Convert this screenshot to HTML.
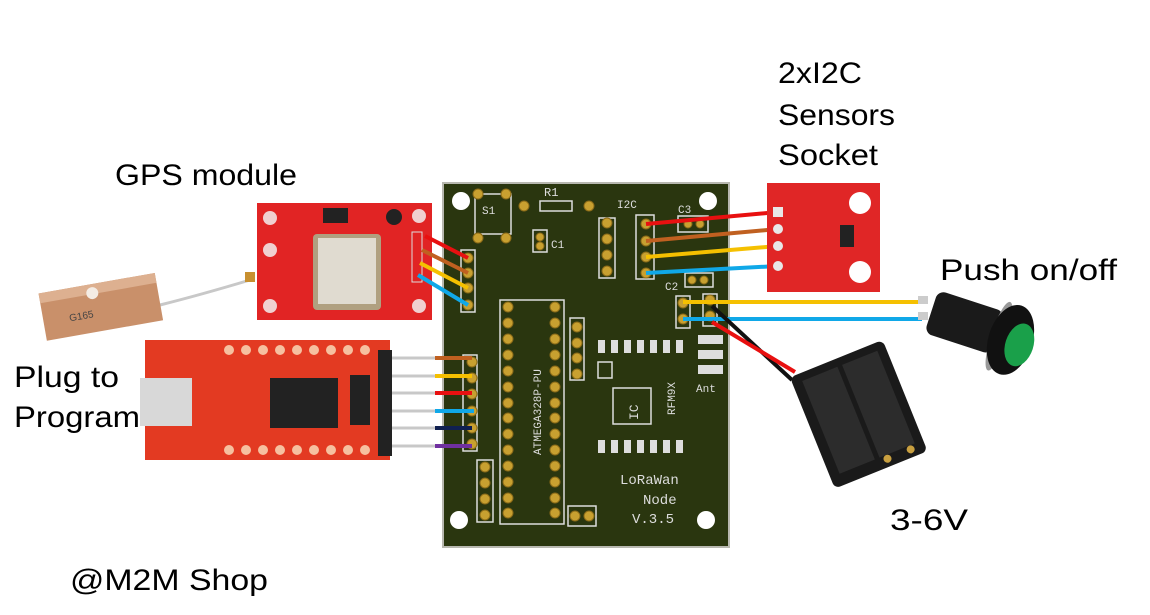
<!DOCTYPE html>
<html><head><meta charset="utf-8"><style>
html,body{margin:0;padding:0;background:#fff;width:1150px;height:615px;overflow:hidden}
svg{display:block}
.t{font-family:"Liberation Sans",sans-serif;font-size:30px;fill:#000}
.pm{font-family:"Liberation Mono",monospace;fill:#ddd}
</style></head><body>
<svg width="1150" height="615" viewBox="0 0 1150 615" xmlns="http://www.w3.org/2000/svg">
<!-- labels -->
<text class="t" x="778" y="83" textLength="84" lengthAdjust="spacingAndGlyphs">2xI2C</text>
<text class="t" x="778" y="125" textLength="117" lengthAdjust="spacingAndGlyphs">Sensors</text>
<text class="t" x="778" y="165" textLength="100" lengthAdjust="spacingAndGlyphs">Socket</text>
<text class="t" x="115" y="185" textLength="182" lengthAdjust="spacingAndGlyphs">GPS module</text>
<text class="t" x="940" y="280" textLength="177" lengthAdjust="spacingAndGlyphs">Push on/off</text>
<text class="t" x="14" y="387" textLength="105" lengthAdjust="spacingAndGlyphs">Plug to</text>
<text class="t" x="14" y="427" textLength="126" lengthAdjust="spacingAndGlyphs">Program</text>
<text class="t" x="890" y="530" textLength="78" lengthAdjust="spacingAndGlyphs">3-6V</text>
<text class="t" x="70" y="590" textLength="198" lengthAdjust="spacingAndGlyphs">@M2M Shop</text>

<!-- PCB -->
<rect x="443" y="183" width="286" height="364" fill="#2a360f" stroke="#b8b8b0" stroke-width="2"/>
<g fill="#fff">
<circle cx="461" cy="201" r="9"/><circle cx="708" cy="201" r="9"/>
<circle cx="459" cy="520" r="9"/><circle cx="706" cy="520" r="9"/>
</g>
<g fill="none" stroke="#ddd" stroke-width="1.5">
<rect x="475" y="194" width="36" height="40"/>
<rect x="540" y="201" width="32" height="10"/>
<rect x="533" y="230" width="14" height="22"/>
<rect x="599" y="218" width="16" height="60"/>
<rect x="636" y="215" width="18" height="64"/>
<rect x="678" y="216" width="30" height="16"/>
<rect x="685" y="273" width="28" height="14"/>
<rect x="500" y="300" width="64" height="224"/>
<rect x="570" y="318" width="14" height="62"/>
<rect x="461" y="250" width="14" height="62"/>
<rect x="463" y="355" width="14" height="96"/>
<rect x="477" y="460" width="16" height="62"/>
<rect x="676" y="296" width="14" height="32"/>
<rect x="703" y="294" width="14" height="32"/>
<rect x="568" y="506" width="28" height="20"/>
<rect x="598" y="362" width="14" height="16"/>
<rect x="613" y="388" width="38" height="36"/>
</g>
<g fill="#ddd">
<rect x="598" y="340" width="7" height="13"/><rect x="611" y="340" width="7" height="13"/><rect x="624" y="340" width="7" height="13"/><rect x="637" y="340" width="7" height="13"/><rect x="650" y="340" width="7" height="13"/><rect x="663" y="340" width="7" height="13"/><rect x="676" y="340" width="7" height="13"/>
<rect x="598" y="440" width="7" height="13"/><rect x="611" y="440" width="7" height="13"/><rect x="624" y="440" width="7" height="13"/><rect x="637" y="440" width="7" height="13"/><rect x="650" y="440" width="7" height="13"/><rect x="663" y="440" width="7" height="13"/><rect x="676" y="440" width="7" height="13"/>
<rect x="698" y="335" width="25" height="9"/><rect x="698" y="350" width="25" height="9"/><rect x="698" y="365" width="25" height="9"/>
</g>
<g fill="#c8a030" stroke="#8a6a18" stroke-width="1">
<circle cx="478" cy="194" r="5"/><circle cx="506" cy="194" r="5"/><circle cx="478" cy="238" r="5"/><circle cx="506" cy="238" r="5"/>
<circle cx="524" cy="206" r="5"/><circle cx="589" cy="206" r="5"/>
<circle cx="540" cy="237" r="4"/><circle cx="540" cy="246" r="4"/>
<circle cx="607" cy="223" r="5"/><circle cx="607" cy="239" r="5"/><circle cx="607" cy="255" r="5"/><circle cx="607" cy="271" r="5"/>
<circle cx="646" cy="224" r="5"/><circle cx="646" cy="241" r="5"/><circle cx="646" cy="257" r="5"/><circle cx="646" cy="273" r="5"/>
<circle cx="688" cy="224" r="4"/><circle cx="700" cy="224" r="4"/>
<circle cx="692" cy="280" r="4"/><circle cx="704" cy="280" r="4"/>
<circle cx="683" cy="303" r="5"/><circle cx="683" cy="319" r="5"/><circle cx="710" cy="300" r="5"/><circle cx="710" cy="316" r="5"/>
<circle cx="468" cy="258" r="5"/><circle cx="468" cy="273" r="5"/><circle cx="468" cy="288" r="5"/><circle cx="468" cy="305" r="5"/>
<circle cx="472" cy="362" r="5"/><circle cx="472" cy="378" r="5"/><circle cx="472" cy="394" r="5"/><circle cx="472" cy="411" r="5"/><circle cx="472" cy="428" r="5"/><circle cx="472" cy="444" r="5"/>
<circle cx="485" cy="467" r="5"/><circle cx="485" cy="483" r="5"/><circle cx="485" cy="499" r="5"/><circle cx="485" cy="515" r="5"/>
<circle cx="577" cy="327" r="5"/><circle cx="577" cy="343" r="5"/><circle cx="577" cy="358" r="5"/><circle cx="577" cy="374" r="5"/>
<circle cx="575" cy="516" r="5"/><circle cx="589" cy="516" r="5"/>
<g id="col">
<circle cx="508" cy="307" r="5"/><circle cx="508" cy="323" r="5"/><circle cx="508" cy="339" r="5"/><circle cx="508" cy="355" r="5"/><circle cx="508" cy="371" r="5"/><circle cx="508" cy="387" r="5"/><circle cx="508" cy="403" r="5"/><circle cx="508" cy="418" r="5"/><circle cx="508" cy="434" r="5"/><circle cx="508" cy="450" r="5"/><circle cx="508" cy="466" r="5"/><circle cx="508" cy="482" r="5"/><circle cx="508" cy="498" r="5"/><circle cx="508" cy="513" r="5"/>
</g>
<use href="#col" x="47"/>
</g>
<text class="pm" x="544" y="196" font-size="12">R1</text>
<text class="pm" x="617" y="208" font-size="11">I2C</text>
<text class="pm" x="678" y="213" font-size="11">C3</text>
<text class="pm" x="551" y="248" font-size="11">C1</text>
<text class="pm" x="665" y="290" font-size="11">C2</text>
<text class="pm" x="482" y="214" font-size="11">S1</text>
<text class="pm" x="696" y="392" font-size="11">Ant</text>
<text class="pm" transform="translate(541,455) rotate(-90)" font-size="11">ATMEGA328P-PU</text>
<text class="pm" transform="translate(675,415) rotate(-90)" font-size="11">RFM9X</text>
<text class="pm" transform="translate(638,420) rotate(-90)" font-size="13">IC</text>
<text class="pm" x="620" y="484" font-size="14">LoRaWan</text>
<text class="pm" x="643" y="504" font-size="14">Node</text>
<text class="pm" x="632" y="523" font-size="14">V.3.5</text>

<!-- GPS antenna -->
<path d="M160 305 Q200 295 250 280" stroke="#c8c8c8" stroke-width="3" fill="none"/>
<rect x="245" y="272" width="10" height="10" fill="#c89030"/>
<g transform="rotate(-10 100 308)">
<rect x="42" y="283" width="118" height="48" fill="#c9906a"/>
<rect x="42" y="283" width="118" height="10" fill="#ddb090"/>
<circle cx="95" cy="292" r="6" fill="#f4ece4"/>
<text x="68" y="316" font-family="Liberation Sans" font-size="10" fill="#444">G165</text>
</g>
<!-- GPS board -->
<rect x="257" y="203" width="175" height="117" fill="#e12424"/>
<g fill="#f0d0d0"><circle cx="270" cy="218" r="7"/><circle cx="270" cy="250" r="7"/><circle cx="270" cy="306" r="7"/><circle cx="419" cy="216" r="7"/><circle cx="419" cy="306" r="7"/></g>
<rect x="313" y="234" width="68" height="76" rx="4" fill="#b0a080"/>
<rect x="318" y="238" width="58" height="66" fill="#e0dbd0"/>
<circle cx="394" cy="217" r="8" fill="#222"/>
<rect x="323" y="208" width="25" height="15" fill="#222"/>
<rect x="412" y="232" width="10" height="50" fill="none" stroke="#ddd"/>
<!-- FTDI -->
<rect x="145" y="340" width="245" height="120" fill="#e33a22"/>
<rect x="140" y="378" width="52" height="48" fill="#d8d8d8"/>
<rect x="270" y="378" width="68" height="50" fill="#222"/>
<rect x="350" y="375" width="20" height="50" fill="#222"/>
<g fill="#f6c0a0"><circle cx="229" cy="350" r="5"/><circle cx="246" cy="350" r="5"/><circle cx="263" cy="350" r="5"/><circle cx="280" cy="350" r="5"/><circle cx="297" cy="350" r="5"/><circle cx="314" cy="350" r="5"/><circle cx="331" cy="350" r="5"/><circle cx="348" cy="350" r="5"/><circle cx="365" cy="350" r="5"/>
<circle cx="229" cy="450" r="5"/><circle cx="246" cy="450" r="5"/><circle cx="263" cy="450" r="5"/><circle cx="280" cy="450" r="5"/><circle cx="297" cy="450" r="5"/><circle cx="314" cy="450" r="5"/><circle cx="331" cy="450" r="5"/><circle cx="348" cy="450" r="5"/><circle cx="365" cy="450" r="5"/></g>
<rect x="378" y="350" width="14" height="106" fill="#222"/>
<g stroke="#c8c8c8" stroke-width="3">
<line x1="392" y1="358" x2="436" y2="358"/><line x1="392" y1="376" x2="436" y2="376"/><line x1="392" y1="393" x2="436" y2="393"/><line x1="392" y1="411" x2="436" y2="411"/><line x1="392" y1="428" x2="436" y2="428"/><line x1="392" y1="446" x2="436" y2="446"/>
</g>
<g stroke-width="4">
<line x1="435" y1="358" x2="472" y2="358" stroke="#c06020"/>
<line x1="435" y1="376" x2="472" y2="376" stroke="#f5c000"/>
<line x1="435" y1="393" x2="472" y2="393" stroke="#e81010"/>
<line x1="435" y1="411" x2="474" y2="411" stroke="#10a8e8"/>
<line x1="435" y1="428" x2="472" y2="428" stroke="#102050"/>
<line x1="435" y1="446" x2="472" y2="446" stroke="#7030a0"/>
<line x1="425" y1="236" x2="468" y2="258" stroke="#e81010"/>
<line x1="422" y1="250" x2="468" y2="273" stroke="#c06020"/>
<line x1="420" y1="263" x2="468" y2="288" stroke="#f5c000"/>
<line x1="418" y1="275" x2="468" y2="305" stroke="#10a8e8"/>
<line x1="646" y1="224" x2="778" y2="212" stroke="#e81010"/>
<line x1="646" y1="241" x2="778" y2="229" stroke="#c06020"/>
<line x1="646" y1="257" x2="778" y2="246" stroke="#f5c000"/>
<line x1="646" y1="273" x2="778" y2="266" stroke="#10a8e8"/>
<line x1="683" y1="302" x2="922" y2="302" stroke="#f5c000"/>
<line x1="683" y1="319" x2="922" y2="319" stroke="#10a8e8"/>
<line x1="712" y1="306" x2="792" y2="380" stroke="#111"/>
<line x1="712" y1="322" x2="795" y2="372" stroke="#e81010"/>
</g>
<!-- sensor -->
<rect x="767" y="183" width="113" height="109" fill="#e02626"/>
<circle cx="860" cy="203" r="11" fill="#fff"/><circle cx="860" cy="272" r="11" fill="#fff"/>
<rect x="840" y="225" width="14" height="22" fill="#222"/>
<g fill="#e8e8e8"><circle cx="778" cy="229" r="5"/><circle cx="778" cy="246" r="5"/><circle cx="778" cy="266" r="5"/><rect x="773" y="207" width="10" height="10"/></g>
<!-- button -->
<rect x="918" y="296" width="10" height="8" fill="#ccc"/><rect x="918" y="312" width="10" height="8" fill="#ccc"/>
<g transform="rotate(18 980 330)">
<rect x="928" y="305" width="70" height="45" rx="8" fill="#1a1a1a"/>
<ellipse cx="1000" cy="330" rx="8" ry="36" fill="#999"/>
<ellipse cx="1012" cy="330" rx="22" ry="36" fill="#111"/>
<ellipse cx="1022" cy="332" rx="14" ry="22" fill="#1aa04a"/>
</g>
<!-- battery -->
<g transform="rotate(-22 855 405)">
<rect x="805" y="355" width="100" height="120" rx="6" fill="#1a1a1a"/>
<rect x="815" y="363" width="38" height="100" fill="#2c2c2c"/>
<rect x="858" y="363" width="38" height="100" fill="#2c2c2c"/>
<circle cx="865" cy="467" r="4" fill="#c9a040"/><circle cx="890" cy="467" r="4" fill="#c9a040"/>
</g>
</svg>
</body></html>
